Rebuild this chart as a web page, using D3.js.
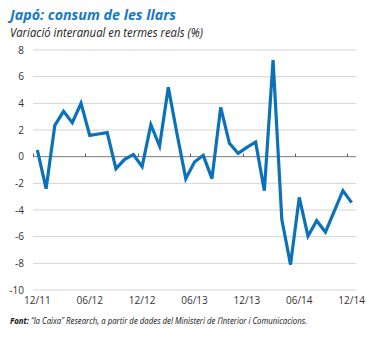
<!DOCTYPE html>
<html><head><meta charset="utf-8">
<script src="https://cdn.jsdelivr.net/npm/d3@7"></script>
<style>
html,body{margin:0;padding:0;background:#fff;}
svg{display:block;}
</style></head>
<body>
<svg id="c" width="369" height="338"></svg>
<script>
const months = ["12/11","01/12","02/12","03/12","04/12","05/12","06/12","07/12","08/12","09/12","10/12","11/12",
  "12/12","01/13","02/13","03/13","04/13","05/13","06/13","07/13","08/13","09/13","10/13","11/13",
  "12/13","01/14","02/14","03/14","04/14","05/14","06/14","07/14","08/14","09/14","10/14","11/14","12/14"];
const values = [0.5,-2.4,2.35,3.4,2.55,4.0,1.6,1.7,1.8,-0.9,-0.2,0.15,
  -0.75,2.4,0.8,5.2,1.7,-1.65,-0.4,0.1,-1.65,3.7,1.0,0.25,
  0.7,1.1,-2.55,7.25,-4.7,-8.1,-3.05,-5.95,-4.8,-5.65,-4.1,-2.55,-3.45];
const xTickLabels = ["12/11","06/12","12/12","06/13","12/13","06/14","12/14"];
const yTicks = [-10,-8,-6,-4,-2,0,2,4,6,8];
const titleText = "Japó: consum de les llars";
const subtitleText = "Variació interanual en termes reals (%)";

const svg = d3.select("#c");
const x = d3.scaleBand().domain(months).range([33, 356]).padding(0);
const y = d3.scaleLinear().domain([-10, 8]).range([290, 50]);

// gridlines
svg.append("g").selectAll("line").data(yTicks.filter(d => d !== 0)).join("line")
  .attr("x1", 33).attr("x2", 356)
  .attr("y1", d => y(d)).attr("y2", d => y(d))
  .attr("stroke", "#d4d4d4").attr("stroke-width", 1);

// y labels
svg.append("g").selectAll("text").data(yTicks).join("text")
  .attr("x", 24).attr("y", d => y(d) + 3.5)
  .attr("text-anchor", "end")
  .attr("font-family", "Open Sans, sans-serif").attr("font-size", 10)
  .attr("fill", "#333").text(d => d);

// zero axis
svg.append("line").attr("x1", 33).attr("x2", 356).attr("y1", y(0)).attr("y2", y(0))
  .attr("stroke", "#7a7a7a").attr("stroke-width", 1);
svg.append("g").selectAll("line").data(xTickLabels).join("line")
  .attr("x1", d => Math.round(x(d)) + 0.5).attr("x2", d => Math.round(x(d)) + 0.5)
  .attr("y1", y(0)).attr("y2", y(0) - 3)
  .attr("stroke", "#555").attr("stroke-width", 1);

// x labels
svg.append("g").selectAll("text").data(xTickLabels).join("text")
  .attr("x", d => x(d) + x.bandwidth() / 2).attr("y", 304)
  .attr("text-anchor", "middle")
  .attr("font-family", "Open Sans, sans-serif").attr("font-size", 10)
  .attr("fill", "#333").text(d => d);

// line
const line = d3.line()
  .x((d, i) => x(months[i]) + x.bandwidth() / 2)
  .y(d => y(d));
svg.append("path").datum(values).attr("d", line)
  .attr("fill", "none").attr("stroke", "#0b72b9").attr("stroke-width", 3.2)
  .attr("stroke-linejoin", "miter").attr("stroke-miterlimit", 4);

// title
function fit(sel, w) {
  const len = sel.node().getComputedTextLength();
  if (Math.abs(len - w) > 1) sel.attr("textLength", w).attr("lengthAdjust", "spacingAndGlyphs");
}
const t = svg.append("text").attr("x", 10).attr("y", 20)
  .attr("font-family", "Open Sans, sans-serif").attr("font-size", 15)
  .attr("font-weight", "bold").attr("font-style", "italic")
  .attr("fill", "#1579c6").text(titleText);
fit(t, 166);
const s = svg.append("text").attr("x", 10).attr("y", 37)
  .attr("font-family", "Open Sans, sans-serif").attr("font-size", 12)
  .attr("font-style", "italic").attr("fill", "#222").text(subtitleText);
fit(s, 193);

// footer
const f = svg.append("text").attr("x", 10).attr("y", 324)
  .attr("font-family", "Open Sans, sans-serif").attr("font-size", 8.6)
  .attr("font-style", "italic").attr("fill", "#111");
f.append("tspan").attr("font-weight", "bold").text("Font: ");
f.append("tspan").text("“la Caixa” Research, a partir de dades del Ministeri de l’Interior i Comunicacions.");
fit(f, 297);
</script>
</body></html>
